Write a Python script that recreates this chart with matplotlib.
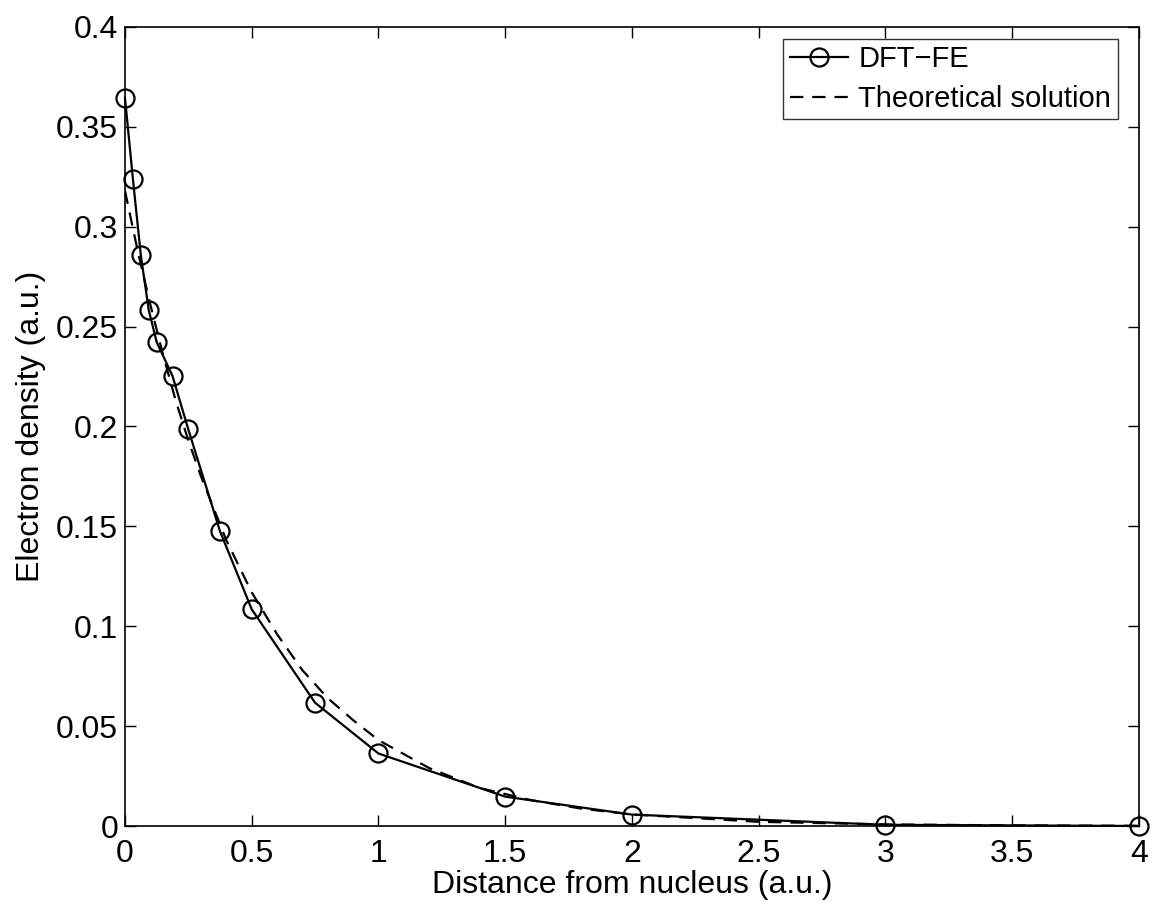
import numpy as np
import matplotlib.pyplot as plt

# DFT-FE taskai
r_fe = [0.0, 0.03125, 0.0625, 0.09375, 0.125, 0.1875, 0.25, 0.375, 0.5,
        0.75, 1.0, 1.5, 2.0, 3.0, 4.0]
rho_fe = [0.3645, 0.324, 0.2858, 0.2583, 0.2423, 0.2253, 0.1985, 0.1475,
          0.1085, 0.0617, 0.0363, 0.0147, 0.0057, 0.0006, 0.0]

# teorinis sprendinys (nuskaityta nuo grafiko)
r_th = [0.0, 0.05, 0.1, 0.15, 0.2, 0.25, 0.3, 0.4, 0.5, 0.6, 0.7, 0.8, 0.9,
        1.0, 1.2, 1.4, 1.6, 1.8, 2.0, 2.5, 3.0, 3.5, 4.0]
rho_th = [0.318, 0.288, 0.261, 0.236, 0.213, 0.193, 0.175, 0.143, 0.117,
          0.096, 0.078, 0.064, 0.053, 0.043, 0.029, 0.019, 0.013, 0.0087,
          0.0058, 0.0021, 0.0008, 0.0003, 0.0001]

plt.rcParams['font.family'] = ['Liberation Sans', 'DejaVu Sans']
plt.rcParams['font.size'] = 23

fig = plt.figure(figsize=(11.55, 9.06), dpi=100)
ax = fig.add_axes([0.1082, 0.0883, 0.8779, 0.8819])

ax.plot(r_fe, rho_fe, '-', color='black', lw=1.6, marker='o', ms=13,
        mfc='none', mec='black', mew=1.6, label='DFT\u2212FE', clip_on=False)
ax.plot(r_th, rho_th, '--', color='black', lw=1.6, dashes=(6, 4),
        label='Theoretical solution')

ax.set_xlim(0, 4)
ax.set_ylim(0, 0.4)
ax.set_xticks(np.arange(0, 4.01, 0.5))
ax.set_yticks(np.arange(0, 0.401, 0.05))
ax.set_xticklabels(['0', '0.5', '1', '1.5', '2', '2.5', '3', '3.5', '4'])
ax.set_yticklabels(['0', '0.05', '0.1', '0.15', '0.2', '0.25', '0.3', '0.35', '0.4'])
ax.tick_params(direction='in', length=8, width=1, top=True, right=True)
ax.tick_params(axis='x', pad=9)
ax.tick_params(axis='y', pad=5)
for s in ax.spines.values():
    s.set_linewidth(1.2)

ax.set_xlabel('Distance from nucleus (a.u.)', labelpad=1)
ax.set_ylabel('Electron density (a.u.)', labelpad=7)

leg = ax.legend(loc='upper right', bbox_to_anchor=(0.979, 0.985),
                fancybox=False, edgecolor='black', fontsize=21,
                handlelength=2.0, handletextpad=0.35, borderpad=0.22,
                labelspacing=0.4, borderaxespad=0)
leg.get_frame().set_linewidth(1.0)

fig.savefig('out.png', dpi=100)
